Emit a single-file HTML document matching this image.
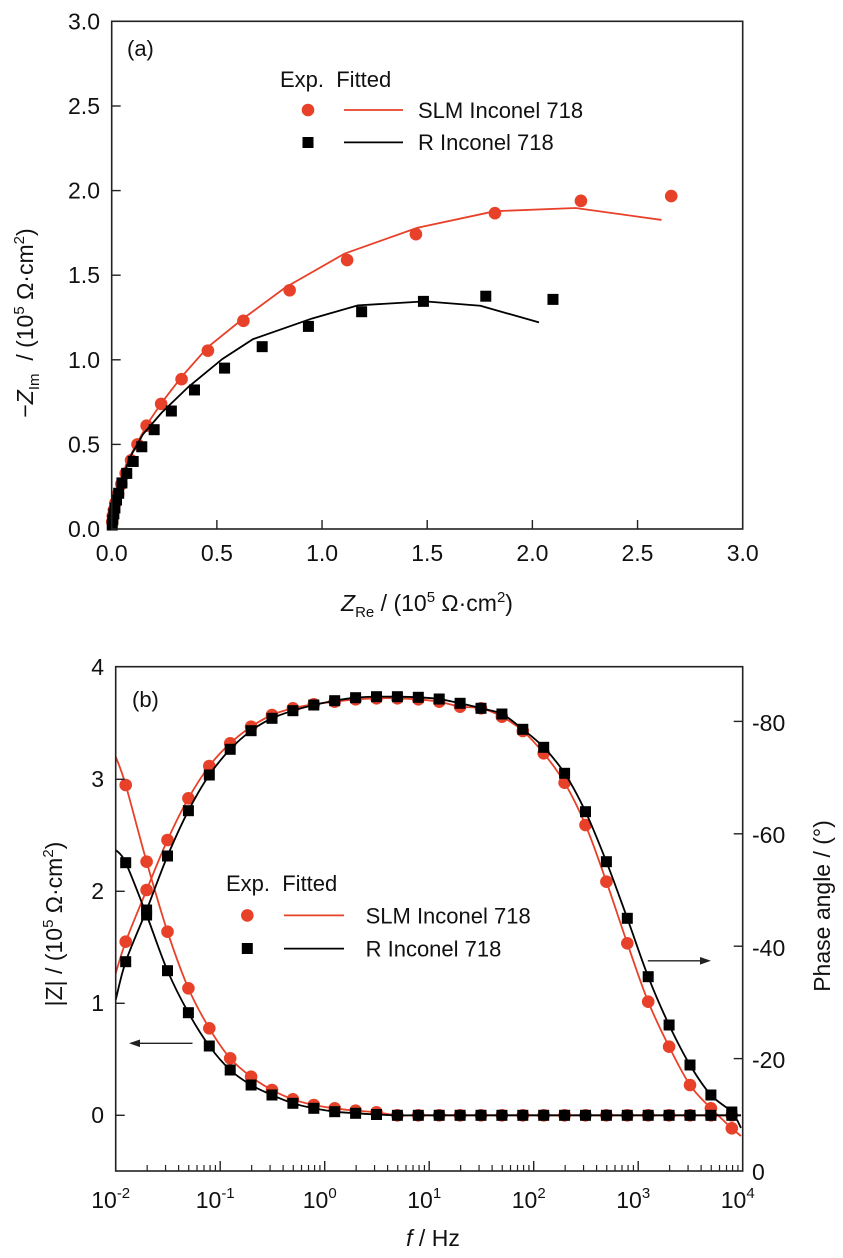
<!DOCTYPE html>
<html><head><meta charset="utf-8"><style>
html,body{margin:0;padding:0;background:#fff;}
svg{display:block;font-family:"Liberation Sans",Arial,sans-serif;}
</style></head><body>
<svg id="s" width="843" height="1258" viewBox="0 0 843 1258" xmlns="http://www.w3.org/2000/svg">
<rect width="843" height="1258" fill="#fff"/>
<g id="gA"></g><g id="gB"></g>
<rect x="111.7" y="21.3" width="631" height="507.7" fill="none" stroke="#222" stroke-width="1.6"/>
<g font-size="23" fill="#111" text-anchor="end">
<text x="100" y="537">0.0</text><text x="100" y="452.4">0.5</text><text x="100" y="367.8">1.0</text>
<text x="100" y="283.2">1.5</text><text x="100" y="198.5">2.0</text><text x="100" y="113.9">2.5</text><text x="100" y="29.3">3.0</text>
</g>
<g font-size="23" fill="#111" text-anchor="middle">
<text x="111.7" y="561">0.0</text><text x="216.9" y="561">0.5</text><text x="322.1" y="561">1.0</text>
<text x="427.2" y="561">1.5</text><text x="532.4" y="561">2.0</text><text x="637.5" y="561">2.5</text><text x="742.7" y="561">3.0</text>
</g>
<text x="427" y="611" font-size="23" text-anchor="middle" fill="#111"><tspan font-style="italic">Z</tspan><tspan font-size="15" dy="6">Re</tspan><tspan dy="-6"> / (10</tspan><tspan font-size="15" dy="-9">5</tspan><tspan dy="9"> Ω·cm</tspan><tspan font-size="15" dy="-9">2</tspan><tspan dy="9">)</tspan></text>
<text transform="translate(33,323) rotate(-90)" font-size="23" text-anchor="middle" fill="#111">−<tspan font-style="italic">Z</tspan><tspan font-size="15" dy="6">Im</tspan><tspan dy="-6">&#160;&#160;/ (10</tspan><tspan font-size="15" dy="-9">5</tspan><tspan dy="9"> Ω·cm</tspan><tspan font-size="15" dy="-9">2</tspan><tspan dy="9">)</tspan></text>
<text x="127" y="56" font-size="22" fill="#111">(a)</text>
<text x="280" y="87" font-size="22" fill="#111">Exp.&#160; Fitted</text>
<circle cx="308" cy="110" r="6.3" fill="#e8412a"/>
<line x1="344" y1="110" x2="403" y2="110" stroke="#e8412a" stroke-width="1.8"/>
<text x="418" y="118" font-size="22" fill="#111">SLM Inconel 718</text>
<rect x="302.5" y="137" width="11" height="11" fill="#000"/>
<line x1="344" y1="142.4" x2="403" y2="142.4" stroke="#000" stroke-width="1.8"/>
<text x="418" y="150" font-size="22" fill="#111">R Inconel 718</text>

<rect x="115.7" y="666.7" width="627" height="504.3" fill="none" stroke="#222" stroke-width="1.6"/>
<g font-size="23" fill="#111" text-anchor="end">
<text x="104" y="1123">0</text><text x="104" y="1011">1</text><text x="104" y="899">2</text><text x="104" y="787">3</text><text x="104" y="675">4</text>
</g>
<g font-size="23" fill="#111" text-anchor="start">
<text x="752" y="1180">0</text><text x="752" y="1068">-20</text><text x="752" y="956">-40</text><text x="752" y="843">-60</text><text x="752" y="731">-80</text>
</g>
<g font-size="23" fill="#111" text-anchor="middle" id="xlb"></g>
<text x="433" y="1246" font-size="23" text-anchor="middle" fill="#111"><tspan font-style="italic">f</tspan> / Hz</text>
<text transform="translate(62,924) rotate(-90)" font-size="23" text-anchor="middle" fill="#111">|Z| / (10<tspan font-size="15" dy="-9">5</tspan><tspan dy="9"> Ω·cm</tspan><tspan font-size="15" dy="-9">2</tspan><tspan dy="9">)</tspan></text>
<text transform="translate(830,906) rotate(-90)" font-size="23" text-anchor="middle" fill="#111">Phase angle / (°)</text>
<text x="132" y="707" font-size="22" fill="#111">(b)</text>
<text x="226" y="891" font-size="22" fill="#111">Exp.&#160; Fitted</text>
<circle cx="247.3" cy="915.4" r="6.3" fill="#e8412a"/>
<line x1="284" y1="915.4" x2="344" y2="915.4" stroke="#e8412a" stroke-width="1.8"/>
<text x="365.6" y="923.4" font-size="22" fill="#111">SLM Inconel 718</text>
<rect x="241.8" y="943" width="11" height="11" fill="#000"/>
<line x1="284" y1="948.6" x2="344" y2="948.6" stroke="#000" stroke-width="1.8"/>
<text x="365.6" y="956.6" font-size="22" fill="#111">R Inconel 718</text>
<line x1="192.5" y1="1043.3" x2="136" y2="1043.3" stroke="#222" stroke-width="1.4"/>
<polygon points="129,1043.3 140,1039.5 140,1047.1" fill="#222"/>
<line x1="647.8" y1="960.8" x2="704" y2="960.8" stroke="#222" stroke-width="1.4"/>
<polygon points="711,960.8 700,957 700,964.6" fill="#222"/>
</svg>
<script>
var NS="http://www.w3.org/2000/svg";
function el(p,t,a){var e=document.createElementNS(NS,t);for(var k in a)e.setAttribute(k,a[k]);p.appendChild(e);return e;}
function smooth(pts){var d="M"+pts[0][0].toFixed(1)+","+pts[0][1].toFixed(1);
for(var i=0;i<pts.length-1;i++){var p0=pts[i-1]||pts[i],p1=pts[i],p2=pts[i+1],p3=pts[i+2]||p2;
var c1=[p1[0]+(p2[0]-p0[0])/6,p1[1]+(p2[1]-p0[1])/6],c2=[p2[0]-(p3[0]-p1[0])/6,p2[1]-(p3[1]-p1[1])/6];
d+=" C"+c1[0].toFixed(1)+","+c1[1].toFixed(1)+" "+c2[0].toFixed(1)+","+c2[1].toFixed(1)+" "+p2[0].toFixed(1)+","+p2[1].toFixed(1);}return d;}
var RED="#e8412a";
var gA=document.getElementById("gA"),s=document.getElementById("s");
function ax(z){return 111.7+(z[0]-207)*631/1174;} function ay(z){return 21.3+(z[1]-60)*507.7/1278;}
function A(arr){return arr.map(function(z){return [ax(z),ay(z)];});}
for(var i=1;i<6;i++){var x=111.7+i*105.17;el(s,"line",{x1:x,y1:529,x2:x,y2:520,stroke:"#222","stroke-width":1.4});
var y=529-i*84.6;el(s,"line",{x1:111.7,y1:y,x2:120.7,y2:y,stroke:"#222","stroke-width":1.4});}
var redLineA=[[207,1338],[212,1290],[220,1240],[235,1170],[255,1120],[275,1070],[300,1020],[337,955],[386,880],[450,810],[530,730],[640,645],[775,580],[920,538],[1070,530],[1230,560]];
var blkLineA=[[207,1338],[212,1300],[220,1240],[240,1160],[265,1100],[300,1045],[350,980],[413,910],[470,860],[580,808],[665,775],[790,765],[893,776],[1002,818]];
var polyR=A(redLineA).map(function(p){return p.join(",")}).join(" ");
var polyB=A(blkLineA).map(function(p){return p.join(",")}).join(" ");
var redPA=[[1248,500],[1080,512],[920,543],[773,596],[645,661],[538,737],[452,814],[386,889],[337,961],[299,1023],[272,1078],[255,1125],[243,1165],[233,1198],[225,1225],[219,1250],[214,1272],[211,1290],[209,1305],[208,1320]];
var blkPA=[[1028,760],[903,752],[787,765],[672,791],[573,828],[487,879],[417,933],[361,988],[318,1041],[286,1088],[263,1131],[247,1168],[235,1198],[226,1222],[220,1248],[216,1265],[213,1285],[211,1300],[209,1315],[208,1328]];
A(redPA).forEach(function(p){el(gA,"circle",{cx:p[0],cy:p[1],r:6.3,fill:RED});});
el(gA,"polyline",{points:polyR,fill:"none",stroke:RED,"stroke-width":1.8});
A(blkPA).forEach(function(p){el(gA,"rect",{x:p[0]-5.5,y:p[1]-5.5,width:11,height:11,fill:"#000"});});
el(gA,"polyline",{points:polyB,fill:"none",stroke:"#000","stroke-width":1.8});
// Panel B
var gB=document.getElementById("gB");
var xlb=document.getElementById("xlb");
for(var d=0;d<=6;d++){var x0=115.7+d*104.5;
 if(d>0&&d<6)el(s,"line",{x1:x0,y1:1171,x2:x0,y2:1161,stroke:"#222","stroke-width":1.4});
 var t=el(xlb,"text",{x:x0-5,y:1208});t.textContent="10";var sp=el(t,"tspan",{"font-size":15,dy:-10});sp.textContent=String(d-2);
 if(d<6)for(var m=2;m<10;m++){var xm=x0+Math.log10(m)*104.5;el(s,"line",{x1:xm,y1:1171,x2:xm,y2:1165,stroke:"#222","stroke-width":1.2});}}
for(var k=0;k<4;k++){var y=1115.3-k*112;el(s,"line",{x1:115.7,y1:y,x2:124.7,y2:y,stroke:"#222","stroke-width":1.4});}
for(var k=1;k<=4;k++){var y=1171-k*112.4;el(s,"line",{x1:742.7,y1:y,x2:733.7,y2:y,stroke:"#222","stroke-width":1.4});}
var xs=[];for(var i=0;i<30;i++)xs.push(125.7+i*20.9);
var rPh=[941.7,890,840,798.3,766,743.3,726.7,715,708.3,704.3,701.7,699.3,698.3,698.3,699.3,701.7,706.7,708.3,716.7,731,753.3,782.7,825,881.7,943.3,1001.7,1046.7,1085,1108.3,1128.3];
var bPh=[961.7,910,856,810.7,775,749.3,730.7,718.3,710.7,705,700.7,697.7,696.7,696.7,697.3,699,703.3,708.3,714,729.3,747.3,773.3,811.7,861.7,918.3,976.7,1025,1065,1095,1112];
var rZ=[785,861.7,931.7,988.3,1028.3,1058.3,1076.7,1090,1099.3,1105,1108.3,1110.7,1112.3];
var bZ=[862.7,915,970.7,1012.7,1046,1070,1085,1095,1103.3,1108.3,1111.7,1113.3,1114.5];
function full(a){var o=[];for(var i=0;i<30;i++)o.push([xs[i],i<a.length?a[i]:1115.3]);return o;}
function pts(a){return a.map(function(v,i){return [xs[i],v]});}
var rZp=full(rZ),bZp=full(bZ),rPp=pts(rPh),bPp=pts(bPh);
rZp.concat(rPp).forEach(function(p){el(gB,"circle",{cx:p[0],cy:p[1],r:6.3,fill:RED});});
function line(p,c){el(gB,"path",{d:smooth(p),fill:"none",stroke:c,"stroke-width":1.8});}
line([[115.7,756.7]].concat(rZp).concat([[741,1115.3]]),RED);
line([[115.7,973.3]].concat(rPp).concat([[741,1136]]),RED);
bZp.concat(bPp).forEach(function(p){el(gB,"rect",{x:p[0]-5.5,y:p[1]-5.5,width:11,height:11,fill:"#000"});});
line([[115.7,850]].concat(bZp).concat([[741,1115.3]]),"#000");
line([[115.7,1000]].concat(bPp).concat([[741,1128]]),"#000");
</script>
</body></html>
